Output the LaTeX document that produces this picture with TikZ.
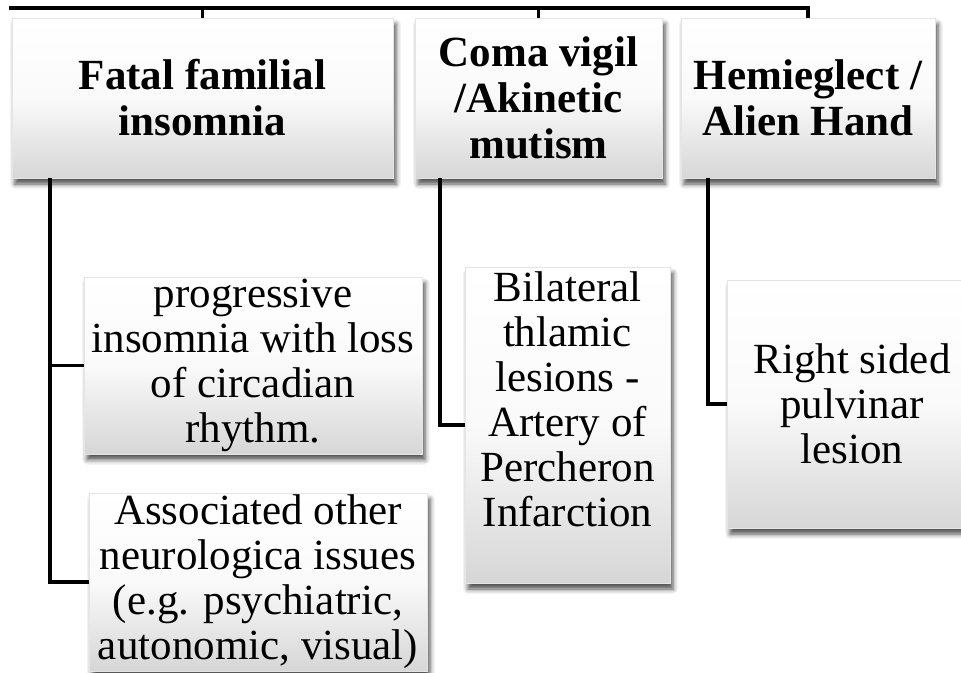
\documentclass[tikz,border=0pt]{standalone}
\usepackage{fontspec}
\setmainfont{Liberation Serif}
\usetikzlibrary{shadows.blur}

\begin{document}
\begin{tikzpicture}[x=1pt, y=-1pt]
    % Define styles
    \tikzstyle{box} = [rectangle, anchor=north west, inner sep=2pt, outer sep=0pt, align=center, draw=gray!20, top color=white, bottom color=gray!32, middle color=gray!4, blur shadow={shadow xshift=3pt, shadow yshift=-6pt, shadow blur radius=5pt, shadow opacity=70}, font=\fontsize{43}{45}\selectfont]
    \tikzstyle{head} = [box, minimum height=160pt, font=\fontsize{43}{46}\selectfont\bfseries]
    \tikzstyle{link} = [line width=3.4pt, black]

    \useasboundingbox (0,0) rectangle (961,672);

    % Top row
    \node [head, minimum width=381pt] (ffi) at (12,18) {Fatal familial\\insomnia};
    \node [head, minimum width=247pt] (coma) at (415,18) {Coma vigil\\/Akinetic\\mutism};
    \node [head, minimum width=254pt] (hemi) at (681,18) {Hemieglect /\\Alien Hand};

    % Findings below each syndrome
    \node [box, minimum width=338pt, minimum height=176pt] (prog) at (84,277) {progressive\\insomnia with loss\\of circadian\\rhythm.};
    \node [box, minimum width=338pt, minimum height=178pt] (assoc) at (89,493) {Associated other\\neurologica issues\\(e.g. psychiatric,\\autonomic, visual)};
    \node [box, minimum width=205pt, minimum height=316pt] (bilat) at (465,267) {Bilateral\\thlamic\\lesions -\\Artery of\\Percheron\\Infarction\\[6pt]};
    \node [box, minimum width=250pt, minimum height=248pt] (pulv) at (727,280) {Right sided\\pulvinar\\lesion};

    % Bus line on top
    \coordinate (busL) at (9,8);
    \draw [link] (busL) -| (hemi.north);
    \draw [link] (ffi.north) -- (ffi.north |- busL);
    \draw [link] (coma.north) -- (coma.north |- busL);

    % Connectors to findings
    \draw [link] ([xshift=38pt]ffi.south west) |- (prog.west);
    \draw [link] ([xshift=38pt]ffi.south west) |- (assoc.west);
    \draw [link] ([xshift=25pt]coma.south west) |- (bilat.west);
    \draw [link] ([xshift=27pt]hemi.south west) |- (pulv.west);
\end{tikzpicture}
\end{document}
